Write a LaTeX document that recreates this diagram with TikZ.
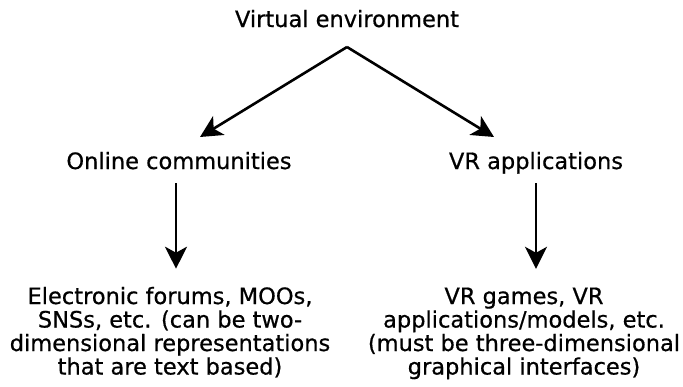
\documentclass[tikz,border=0pt]{standalone}
\usepackage{fontspec}
\setmainfont{DejaVu Sans}[FakeBold=0.6]
\usetikzlibrary{arrows.meta}
\begin{document}
\begin{tikzpicture}[x=1pt,y=-1pt,
  lbl/.style={font=\fontsize{22.5}{23.5}\selectfont, inner sep=0pt, align=center},
  conn/.style={line width=2.6pt, -{Stealth[length=22pt,width=22pt,inset=6pt]}}]
\useasboundingbox (0,0) rectangle (683,386);
% labels (multi-line nodes sit on the baseline of their last line)
\node[lbl, anchor=base] (ve) at (347,27) {Virtual environment};
\node[lbl, anchor=base] (oc) at (179,169) {Online communities};
\node[lbl, anchor=base] (vr) at (536,169) {VR applications};
\node[lbl, anchor=base] (ocx) at (170,374.5)
  {Electronic forums, MOOs,\\SNSs, etc. (can be two-\\dimensional representations\\that are text based)};
\node[lbl, anchor=base] (vrx) at (524,374.5)
  {VR games, VR\\applications/models, etc.\\(must be three-dimensional\\graphical interfaces)};
% connector ends
\coordinate (apex) at ([yshift=-20pt]ve.base);
\coordinate (tipL) at ([xshift=21pt,yshift=32pt]oc.base);
\coordinate (tipR) at ([xshift=-42pt,yshift=32pt]vr.base);
% connectors
\draw[conn] (apex) -- (tipL);
\draw[conn] (apex) -- (tipR);
\draw[conn] ([xshift=-3pt,yshift=-14pt]oc.base) -- ([xshift=6pt,yshift=18pt]ocx.north);
\draw[conn] ([yshift=-14pt]vr.base) -- ([xshift=12pt,yshift=18.6pt]vrx.north);
\end{tikzpicture}
\end{document}
